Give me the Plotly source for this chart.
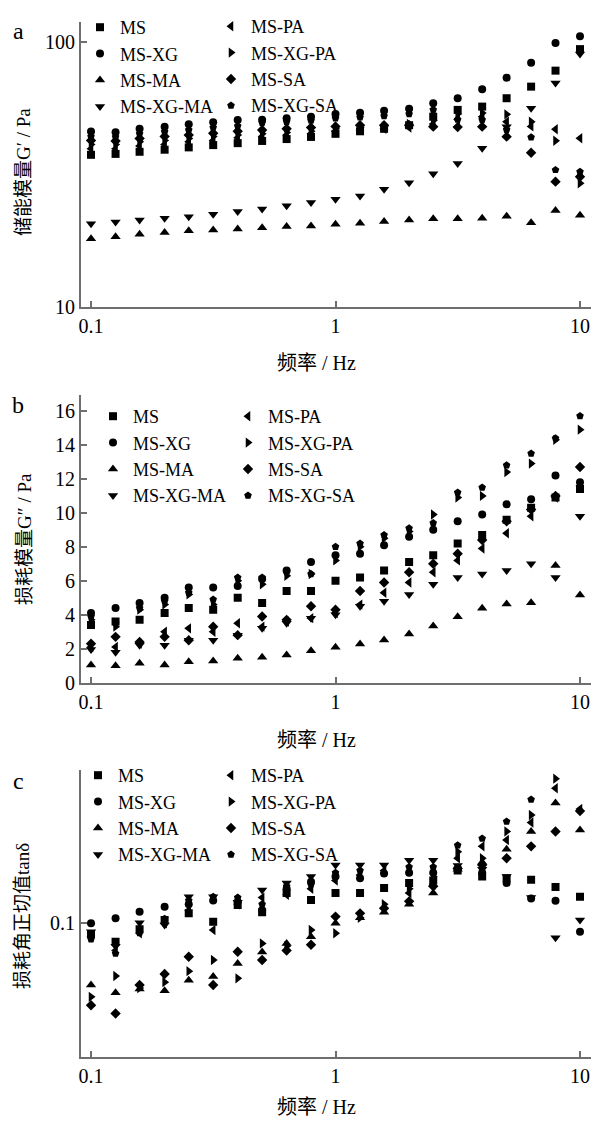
import plotly.graph_objects as go

# ---------------- data ----------------
freq = [0.1, 0.126, 0.158, 0.2, 0.251, 0.316, 0.398, 0.501, 0.631, 0.794,
        1.0, 1.26, 1.58, 2.0, 2.51, 3.16, 3.98, 5.01, 6.31, 7.94, 10.0]

series_names = ["MS", "MS-XG", "MS-MA", "MS-XG-MA", "MS-PA", "MS-XG-PA", "MS-SA", "MS-XG-SA"]
series_symbols = ["square", "circle", "triangle-up", "triangle-down",
                  "triangle-left", "triangle-right", "diamond", "pentagon"]

# (a) storage modulus G' / Pa
g1_ms       = [37.5, 37.8, 38.5, 39.2, 40.0, 40.8, 41.5, 42.3, 43.0, 43.8, 45.0, 46.0, 47.0, 48.5, 52.2, 55.4, 57.0, 61.3, 67.8, 77.9, 93.9]
g1_ms_xg    = [45.9, 45.6, 47.0, 47.8, 48.9, 49.8, 50.7, 50.8, 51.5, 52.2, 53.5, 54.0, 55.0, 56.0, 58.7, 61.3, 66.3, 73.3, 83.5, 99.0, 105.0]
g1_ms_ma    = [18.1, 18.4, 18.8, 19.1, 19.4, 19.5, 19.7, 19.9, 20.1, 20.2, 20.5, 20.7, 21.0, 21.3, 21.5, 21.5, 21.6, 22.0, 20.8, 23.1, 22.2]
g1_ms_xg_ma = [20.6, 20.9, 21.3, 21.6, 21.9, 22.4, 22.9, 23.4, 24.1, 24.8, 25.5, 26.2, 27.8, 29.4, 31.8, 34.8, 39.7, 47.8, 56.2, 69.9, 90.0]
g1_ms_pa    = [39.5, 39.5, 40.5, 41.0, 42.0, 42.5, 43.5, 44.0, 44.5, 45.0, 46.0, 46.5, 47.0, 47.5, 49.0, 51.0, 52.2, 50.0, 48.0, 46.8, 43.3]
g1_ms_xg_pa = [41.0, 41.0, 42.0, 42.5, 43.2, 44.0, 44.5, 45.0, 45.5, 46.0, 47.0, 47.5, 48.0, 49.0, 50.5, 53.5, 53.9, 53.3, 50.0, 42.4, 29.3]
g1_ms_sa    = [42.5, 42.3, 43.2, 44.0, 44.5, 45.2, 46.0, 46.5, 47.0, 47.5, 48.0, 48.5, 48.5, 48.5, 47.9, 47.7, 47.9, 43.9, 38.2, 29.7, 31.0]
g1_ms_xg_sa = [44.0, 43.8, 45.0, 45.8, 46.5, 47.5, 48.2, 49.5, 50.0, 50.5, 51.5, 52.0, 52.5, 53.5, 55.5, 51.0, 50.8, 46.6, 43.7, 32.9, 32.4]

# (b) loss modulus G'' / Pa
g2_ms       = [3.4, 3.6, 3.7, 4.1, 4.4, 4.3, 5.0, 4.7, 5.4, 5.4, 6.0, 6.2, 6.6, 7.1, 7.5, 8.2, 8.7, 9.6, 10.3, 10.9, 11.4]
g2_ms_xg    = [4.1, 4.4, 4.7, 5.0, 5.6, 5.6, 5.7, 6.1, 6.6, 7.1, 7.5, 7.6, 8.1, 8.6, 9.0, 9.5, 9.9, 10.5, 10.8, 12.2, 11.8]
g2_ms_ma    = [1.04, 1.0, 1.14, 1.04, 1.24, 1.28, 1.44, 1.5, 1.63, 1.88, 2.08, 2.28, 2.51, 2.87, 3.34, 3.89, 4.38, 4.63, 4.71, 6.9, 5.17]
g2_ms_xg_ma = [1.95, 1.8, 2.2, 2.2, 2.5, 2.5, 2.8, 3.2, 3.5, 3.8, 4.0, 4.5, 4.8, 5.2, 5.8, 6.2, 6.4, 6.6, 7.0, 6.2, 9.8]
g2_ms_pa    = [2.1, 2.1, 2.3, 3.0, 3.2, 3.0, 3.5, 3.3, 3.6, 3.8, 4.1, 4.6, 5.3, 5.9, 6.5, 7.2, 7.9, 8.8, 9.8, 10.9, 11.6]
g2_ms_xg_pa = [3.7, 3.3, 4.3, 4.6, 5.2, 4.6, 6.0, 5.8, 6.3, 6.4, 7.2, 8.0, 8.5, 8.9, 9.9, 10.9, 11.0, 12.4, 12.9, 14.3, 14.9]
g2_ms_sa    = [2.3, 2.7, 2.4, 2.7, 2.5, 3.3, 2.8, 3.9, 3.7, 4.5, 4.3, 5.4, 5.9, 6.5, 7.0, 7.6, 8.4, 9.5, 10.2, 11.0, 12.7]
g2_ms_xg_sa = [3.9, 3.5, 4.4, 4.8, 5.3, 4.9, 6.2, 6.2, 6.5, 6.4, 8.0, 8.2, 8.7, 9.1, 9.4, 11.2, 11.5, 12.8, 13.5, 14.4, 15.7]

# (c) loss tangent tan(delta)
t_ms       = [0.091, 0.0852, 0.095, 0.1029, 0.109, 0.1014, 0.1172, 0.110, 0.130, 0.1224, 0.130, 0.130, 0.136, 0.142, 0.145, 0.158, 0.150, 0.148, 0.146, 0.137, 0.126]
t_ms_xg    = [0.100, 0.1044, 0.1106, 0.1155, 0.118, 0.122, 0.1206, 0.112, 0.135, 0.1435, 0.150, 0.148, 0.154, 0.155, 0.155, 0.161, 0.155, 0.142, 0.124, 0.1217, 0.093]
t_ms_ma    = [0.0585, 0.0547, 0.0565, 0.0557, 0.061, 0.063, 0.0706, 0.078, 0.084, 0.089, 0.100, 0.105, 0.110, 0.118, 0.130, 0.160, 0.170, 0.190, 0.222, 0.284, 0.225]
t_ms_xg_ma = [0.093, 0.082, 0.1005, 0.0986, 0.126, 0.126, 0.120, 0.1336, 0.142, 0.150, 0.166, 0.166, 0.166, 0.173, 0.173, 0.165, 0.160, 0.150, 0.125, 0.0882, 0.1029]
t_ms_pa    = [0.089, 0.079, 0.0917, 0.100, 0.112, 0.0944, 0.118, 0.125, 0.128, 0.135, 0.145, 0.152, 0.158, 0.130, 0.140, 0.176, 0.195, 0.206, 0.240, 0.323, 0.270]
t_ms_xg_pa = [0.0528, 0.0633, 0.057, 0.060, 0.066, 0.0727, 0.062, 0.084, 0.082, 0.0944, 0.0917, 0.105, 0.118, 0.135, 0.150, 0.186, 0.176, 0.222, 0.256, 0.351, None]
t_ms_sa    = [0.0491, 0.0457, 0.0585, 0.0644, 0.0748, 0.0585, 0.0781, 0.0727, 0.079, 0.083, 0.106, 0.109, 0.114, 0.121, 0.138, 0.161, 0.166, 0.176, 0.195, 0.222, 0.265]
t_ms_xg_sa = [0.087, 0.077, 0.092, 0.104, 0.122, 0.126, 0.125, 0.118, 0.138, 0.140, 0.155, 0.158, 0.154, 0.163, 0.163, 0.197, 0.209, 0.242, 0.293, None, None]

panel_a = [g1_ms, g1_ms_xg, g1_ms_ma, g1_ms_xg_ma, g1_ms_pa, g1_ms_xg_pa, g1_ms_sa, g1_ms_xg_sa]
panel_b = [g2_ms, g2_ms_xg, g2_ms_ma, g2_ms_xg_ma, g2_ms_pa, g2_ms_xg_pa, g2_ms_sa, g2_ms_xg_sa]
panel_c = [t_ms, t_ms_xg, t_ms_ma, t_ms_xg_ma, t_ms_pa, t_ms_xg_pa, t_ms_sa, t_ms_xg_sa]

x_tickvals = [0.1, 1, 10]
x_ticktext = ["0.1", "1", "10"]
a_tickvals = [10, 100]
a_ticktext = ["10", "100"]
b_tickvals = [0, 2, 4, 6, 8, 10, 12, 14, 16]
b_ticktext = ["0", "2", "4", "6", "8", "10", "12", "14", "16"]
c_tickvals = [0.1]
c_ticktext = ["0.1"]

# ---------------- layout helpers ----------------
W, H = 595, 1121
def px(x):
    return x / W
def py(y):
    return 1 - y / H

SERIF = "Liberation Serif, Times New Roman, serif"
CJKF = "Noto Sans CJK SC"
AXCOL = "#6e6e6e"

fig = go.Figure()

panels = [panel_a, panel_b, panel_c]
for p, data in enumerate(panels):
    xa = "x" if p == 0 else f"x{p+1}"
    ya = "y" if p == 0 else f"y{p+1}"
    for i, (name, sym, vals) in enumerate(zip(series_names, series_symbols, data)):
        leg_idx = 2 * p + (1 if i < 4 else 2)
        leg = "legend" if leg_idx == 1 else f"legend{leg_idx}"
        size = 9 if "triangle" in sym else 8
        fig.add_trace(go.Scatter(
            x=freq, y=vals, mode="markers", name=name,
            marker=dict(symbol=sym, size=size, color="black", line=dict(width=0)),
            xaxis=xa, yaxis=ya, legend=leg, showlegend=True,
        ))

xdom = [px(81), px(591)]
doms = [[py(307), py(22)], [py(682.7), py(395)], [py(1056.7), py(770)]]

def xaxis_cfg(anchor, dom):
    return dict(type="log", range=[-1.041, 1.045], domain=dom, anchor=anchor,
                tickvals=x_tickvals, ticktext=x_ticktext, ticks="inside", ticklen=6,
                tickwidth=1.5, tickcolor=AXCOL, showline=True, linecolor=AXCOL,
                linewidth=2, showgrid=False, zeroline=False, automargin=False,
                tickfont=dict(family=SERIF, size=20, color="black"))

def yaxis_cfg(anchor, dom, **kw):
    d = dict(domain=dom, anchor=anchor, ticks="inside", ticklen=6, tickwidth=1.5,
             tickcolor=AXCOL, showline=True, linecolor=AXCOL, linewidth=2,
             showgrid=False, zeroline=False, automargin=False,
             tickfont=dict(family=SERIF, size=20, color="black"))
    d.update(kw)
    return d

legend_common = dict(xanchor="left", yanchor="top", bgcolor="rgba(0,0,0,0)",
                     font=dict(family=SERIF, size=18, color="black"),
                     traceorder="normal", itemwidth=30, borderwidth=0)

leg_pos = {
    "legend":  (80, 9),   "legend2": (211, 8),
    "legend3": (93, 398), "legend4": (228, 398),
    "legend5": (78, 757), "legend6": (211, 757),
}

layout = dict(
    template="none",
    width=W, height=H, margin=dict(l=0, r=0, t=0, b=0, pad=0, autoexpand=False),
    paper_bgcolor="white", plot_bgcolor="white", showlegend=True,
    xaxis=xaxis_cfg("y", xdom),
    xaxis2=xaxis_cfg("y2", xdom),
    xaxis3=xaxis_cfg("y3", xdom),
    yaxis=yaxis_cfg("x", doms[0], type="log", range=[1, 2.075],
                    tickvals=a_tickvals, ticktext=a_ticktext),
    yaxis2=yaxis_cfg("x2", doms[1], range=[0, 16.94],
                     tickvals=b_tickvals, ticktext=b_ticktext),
    yaxis3=yaxis_cfg("x3", doms[2], type="log", range=[-1.503, -0.422],
                     tickvals=c_tickvals, ticktext=c_ticktext),
)
for k, (lx, ly) in leg_pos.items():
    layout[k] = dict(legend_common, x=px(lx), y=py(ly))

fig.update_layout(**layout)

ann = []
def add_text(text, x, y, size, angle=0):
    ann.append(dict(text=text, x=px(x), y=py(y), xref="paper", yref="paper",
                    showarrow=False, textangle=angle, xanchor="center", yanchor="middle",
                    font=dict(family=SERIF, size=size, color="black")))

def cjk(s):
    return f"<span style='font-family:{CJKF}'>{s}</span>"

add_text("a", 18, 31, 24)
add_text("b", 18, 405, 24)
add_text("c", 18, 781, 24)
add_text(cjk("储能模量") + "G′ / Pa", 22, 172, 19, -90)
add_text(cjk("损耗模量") + "G″ / Pa", 22, 539, 19, -90)
add_text(cjk("损耗角正切值") + "tanδ", 20, 916, 19, -90)
add_text(cjk("频率") + " / Hz", 316, 362, 20)
add_text(cjk("频率") + " / Hz", 316, 738, 20)
add_text(cjk("频率") + " / Hz", 316, 1105, 20)
fig.update_layout(annotations=ann)

# remove the page's default body margin so the figure sits exactly in the window
fig.write_html("out.html",
               config={"displayModeBar": False},
               post_script="document.body.style.margin='0px';"
                           "document.body.style.overflow='hidden';")
